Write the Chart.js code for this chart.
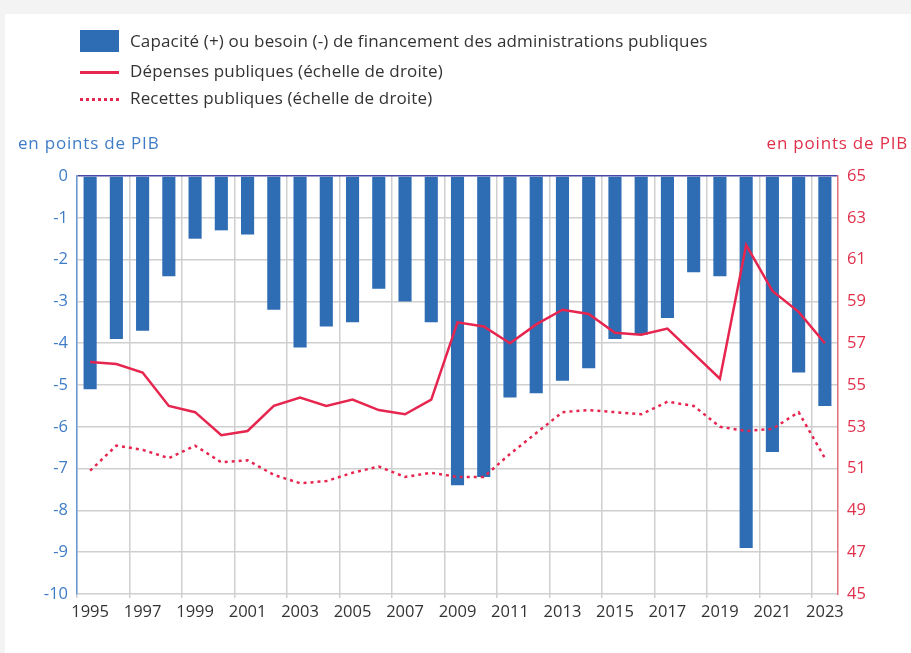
<!DOCTYPE html>
<html>
<head>
<meta charset="utf-8">
<script src="https://cdn.jsdelivr.net/npm/chart.js@4"></script>
<style>
  body { margin: 0; background: #f3f3f3; font-family: "Open Sans", sans-serif; }
  #panel { position: absolute; left: 5px; top: 14px; width: 906px; height: 639px; background: #fff; }
  #box { position: absolute; left: 0; top: 0; width: 911px; height: 653px; }
  .leg { position: absolute; left: 130px; font-size: 17px; letter-spacing: 0.15px; color: #333; line-height: 20px; white-space: nowrap; }
  .titre { position: absolute; top: 131px; font-size: 17px; letter-spacing: 0.8px; line-height: 24px; white-space: nowrap; }
</style>
</head>
<body>
<div id="panel"></div>
<div id="box"><canvas id="chart"></canvas></div>

<div style="position:absolute;left:80px;top:30px;width:39px;height:22px;background:#2e6cb4;"></div>
<div class="leg" id="leg1" style="top:31px;"></div>
<div style="position:absolute;left:80px;top:71px;width:39px;height:3px;background:#e6264f;"></div>
<div class="leg" id="leg2" style="top:61px;"></div>
<div style="position:absolute;left:80px;top:98px;width:39px;height:0;border-top:3px dotted #e6264f;"></div>
<div class="leg" id="leg3" style="top:88px;"></div>

<div class="titre" style="left:18px;color:#3f7cc6;">en points de PIB</div>
<div class="titre" style="right:3px;color:#e0304a;">en points de PIB</div>

<script>
const annees = ['1995','1996','1997','1998','1999','2000','2001','2002','2003','2004',
  '2005','2006','2007','2008','2009','2010','2011','2012','2013','2014',
  '2015','2016','2017','2018','2019','2020','2021','2022','2023'];

const capacite = [-5.1, -3.9, -3.7, -2.4, -1.5, -1.3, -1.4, -3.2, -4.1, -3.6,
  -3.5, -2.7, -3.0, -3.5, -7.4, -7.2, -5.3, -5.2, -4.9, -4.6,
  -3.9, -3.8, -3.4, -2.3, -2.4, -8.9, -6.6, -4.7, -5.5];

const depenses = [56.1, 56.0, 55.6, 54.0, 53.7, 52.6, 52.8, 54.0, 54.4, 54.0,
  54.3, 53.8, 53.6, 54.3, 58.0, 57.8, 57.0, 57.9, 58.6, 58.4,
  57.5, 57.4, 57.7, 56.5, 55.3, 61.7, 59.5, 58.5, 57.0];

const recettes = [50.9, 52.1, 51.9, 51.5, 52.1, 51.3, 51.4, 50.7, 50.3, 50.4,
  50.8, 51.1, 50.6, 50.8, 50.6, 50.6, 51.7, 52.7, 53.7, 53.8,
  53.7, 53.6, 54.2, 54.0, 53.0, 52.8, 52.9, 53.7, 51.5];

const labelBarres = 'Capacité (+) ou besoin (-) de financement des administrations publiques';
const labelDepenses = 'Dépenses publiques (échelle de droite)';
const labelRecettes = 'Recettes publiques (échelle de droite)';

document.getElementById('leg1').textContent = labelBarres;
document.getElementById('leg2').textContent = labelDepenses;
document.getElementById('leg3').textContent = labelRecettes;

const bleu = '#2e6cb4';
const rouge = '#e6264f';
const gris = '#cfcfcf';

const ctx = document.getElementById('chart');
new Chart(ctx, {
  type: 'bar',
  data: {
    labels: annees,
    datasets: [{
      type: 'line',
      label: labelDepenses,
      data: depenses,
      yAxisID: 'y1',
      borderColor: rouge,
      borderWidth: 2.5,
      pointRadius: 0,
      tension: 0,
      order: 0
    }, {
      type: 'line',
      label: labelRecettes,
      data: recettes,
      yAxisID: 'y1',
      borderColor: rouge,
      borderWidth: 2.5,
      borderDash: [3, 4],
      pointRadius: 0,
      tension: 0,
      order: 0
    }, {
      type: 'bar',
      label: labelBarres,
      data: capacite,
      yAxisID: 'y',
      backgroundColor: bleu,
      barPercentage: 0.5,
      categoryPercentage: 1,
      order: 1
    }]
  },
  options: {
    responsive: true,
    maintainAspectRatio: false,
    animation: false,
    layout: {
      padding: { top: 176, left: 0, right: 0, bottom: 0 }
    },
    plugins: {
      legend: { display: false },
      tooltip: { enabled: false }
    },
    scales: {
      x: {
        offset: true,
        grid: {
          color: (c) => (c.index % 2 === 0 ? gris : 'rgba(0,0,0,0)'),
          tickLength: 4,
          lineWidth: 1.5
        },
        border: { display: false },
        ticks: {
          autoSkip: false,
          maxRotation: 0,
          padding: 4,
          color: '#333',
          font: { family: 'Open Sans', size: 16.5 },
          callback: function (v, i) { return i % 2 === 0 ? annees[i] : ''; }
        },
        afterFit: (s) => { s.height = 59; }
      },
      y: {
        position: 'left',
        min: -10,
        max: 0,
        grid: {
          color: (c) => (c.tick && c.tick.value === 0 ? '#4848a8' : gris),
          lineWidth: 1.5,
          drawTicks: false
        },
        border: { color: '#6a9ad6', width: 1.5 },
        ticks: {
          stepSize: 1,
          padding: 9,
          color: '#3f7cc6',
          font: { family: 'Open Sans', size: 16.5 }
        },
        afterFit: (s) => { s.width = 77; }
      },
      y1: {
        position: 'right',
        min: 45,
        max: 65,
        grid: { drawOnChartArea: false, drawTicks: false },
        border: { color: '#e0707a', width: 1.5 },
        ticks: {
          stepSize: 2,
          padding: 9,
          color: '#e0304a',
          font: { family: 'Open Sans', size: 16.5 }
        },
        afterFit: (s) => { s.width = 73; }
      }
    }
  }
});
</script>
</body>
</html>
